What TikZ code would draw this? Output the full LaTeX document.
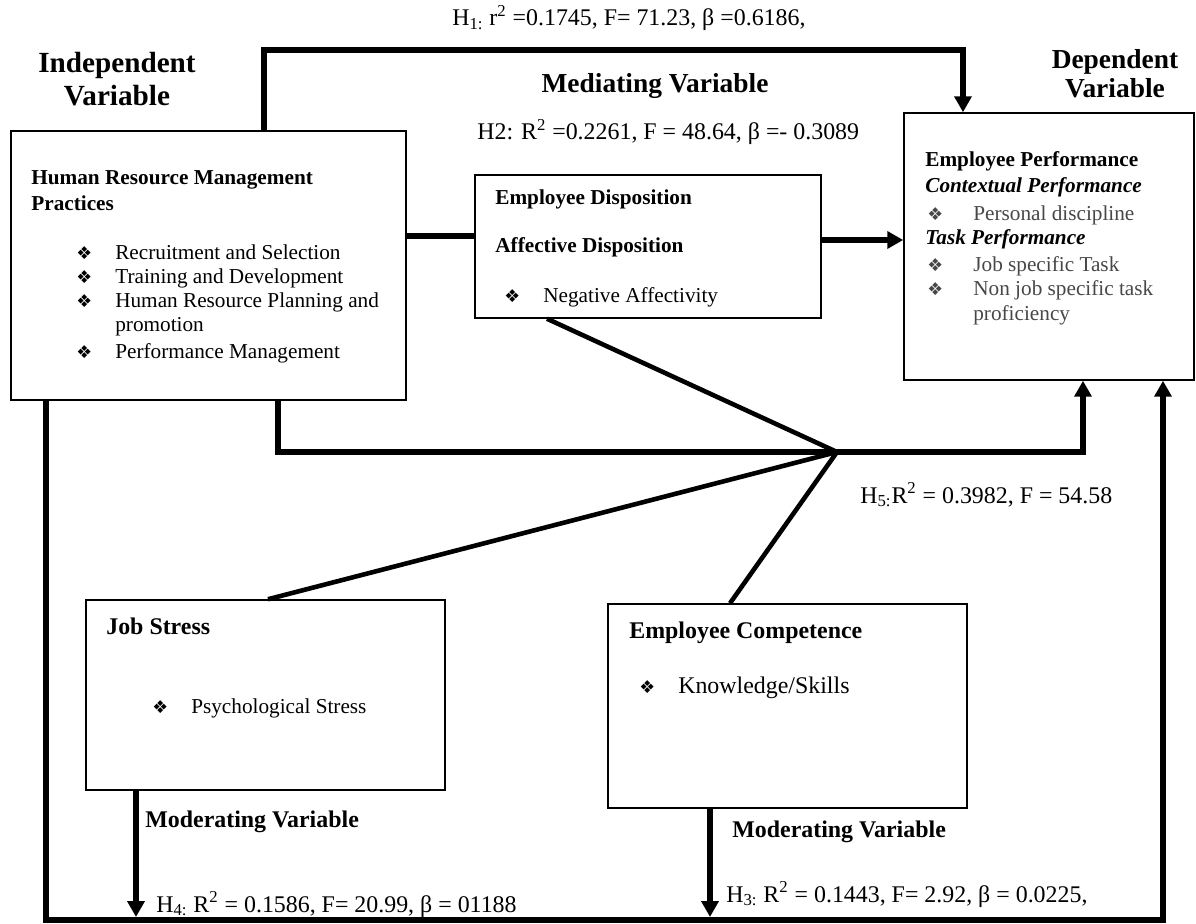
\documentclass[tikz,border=0pt]{standalone}
\usepackage{fontspec}
\setmainfont{Liberation Serif}
\newfontfamily\symfont{DejaVu Sans}
\usetikzlibrary{arrows.meta,fit}
\newcommand{\bul}{{\symfont\fontsize{10}{10}\selectfont\char"2756}}
\newcommand{\bitem}[2][22pt]{\makebox[#1][l]{\bul}#2}
\begin{document}
\begin{tikzpicture}[x=0.565pt,y=-0.565pt,
  boxst/.style={draw,line width=0.85pt,inner sep=0pt},
  txt/.style={anchor=base west,inner sep=0pt,font=\fontsize{12}{14}\selectfont},
  txtb/.style={txt,font=\fontsize{12}{14}\selectfont\bfseries},
  txtbi/.style={txt,font=\fontsize{12}{14}\selectfont\bfseries\itshape},
  gtxt/.style={txt,text=black!72},
  lbl/.style={anchor=base west,inner sep=0pt,font=\fontsize{13.5}{16}\selectfont},
  lblb/.style={lbl,font=\fontsize{13.5}{16}\selectfont\bfseries},
  hd/.style={anchor=base,inner sep=0pt,font=\fontsize{15.5}{18}\selectfont\bfseries},
  hdl/.style={hd,font=\fontsize{16.5}{19}\selectfont\bfseries},
  thk/.style={line width=3.1pt},
  arr/.style={line width=3.1pt,-{Triangle[width=9.5pt,length=9pt]}},
  diag/.style={line width=2.6pt}]
\useasboundingbox (0,0) rectangle (1196,924);

% boxes
\node[boxst,fit={(11,131)(406,400)}] (hrm) {};
\node[boxst,fit={(475,175)(821,318)}] (ed) {};
\node[boxst,fit={(904,113)(1194,380)}] (dp) {};
\node[boxst,fit={(86,600)(445,790)}] (js) {};
\node[boxst,fit={(608,604)(967,808)}] (ec) {};

% headings
\node[hdl] (indep1) at (117,73) {Independent};
\node[hdl] (indep2) at (117,106) {Variable};
\node[hd] (medi) at (655,93) {Mediating Variable};
\node[hd] (dep1) at (1115,69) {Dependent};
\node[hd] (dep2) at (1115,98) {Variable};

% hypothesis labels
\node[lbl] (h1) at (452,26) {H\textsubscript{1:} r\textsuperscript{2} =0.1745, F= 71.23, β =0.6186,};
\node[lbl] (h2) at (477,140) {H2: R\textsuperscript{2} =0.2261, F = 48.64, β =- 0.3089};
\node[lbl] (h5) at (860,503) {H\textsubscript{5:}R\textsuperscript{2} = 0.3982, F = 54.58};
\node[lbl] (h4) at (156,912) {H\textsubscript{4:} R\textsuperscript{2} = 0.1586, F= 20.99, β = 01188};
\node[lbl] (h3) at (726,902) {H\textsubscript{3:} R\textsuperscript{2} = 0.1443, F= 2.92, β = 0.0225,};
\node[lblb] (mod1) at (145,827) {Moderating Variable};
\node[lblb] (mod2) at (732,837) {Moderating Variable};

% HRM box text
\node[txtb] (hrmt1) at (31,185) {Human Resource Management};
\node[txtb] (hrmt2) at (31,211) {Practices};
\node[txt] (hrmi1) at (76,260) {\bitem{Recruitment and Selection}};
\node[txt] (hrmi2) at (76,284) {\bitem{Training and Development}};
\node[txt] (hrmi3) at (76,308) {\bitem{Human Resource Planning and}};
\node[txt] (hrmi3b) at (115,332) {promotion};
\node[txt] (hrmi4) at (76,358) {\bitem{Performance Management}};

% ED box text
\node[txtb] (edt1) at (495,205) {Employee Disposition};
\node[txtb] (edt2) at (495,253) {Affective Disposition};
\node[txt] (edi1) at (504,303) {\bitem{Negative Affectivity}};

% DP box text
\node[txtb] (dpt1) at (925,167) {Employee Performance};
\node[txtbi] (dpt2) at (925,193) {Contextual Performance};
\node[gtxt] (dpi1) at (927,221) {\bitem[26pt]{Personal discipline}};
\node[txtbi] (dpt3) at (925,245) {Task Performance};
\node[gtxt] (dpi2) at (927,272) {\bitem[26pt]{Job specific Task}};
\node[gtxt] (dpi3) at (927,296) {\bitem[26pt]{Non job specific task}};
\node[gtxt] (dpi3b) at (973,320) {proficiency};

% JS box text
\node[lblb] (jst) at (106,634) {Job Stress};
\node[txt] (jsi) at (152,713) {\bitem{Psychological Stress}};

% EC box text
\node[lblb] (ect) at (629,638) {Employee Competence};
\node[lbl] (eci) at (639,693) {\bitem{Knowledge/Skills}};

% bend coordinates
\coordinate (t1) at (264,50);
\coordinate (t2) at (963,50);
\coordinate (y1) at (440,236);
\coordinate (y2) at (860,240);
\coordinate (cv) at (837,452);
\coordinate (b1) at (278,452);
\coordinate (b2) at (1083,452);
\coordinate (e1) at (547,318);
\coordinate (j1) at (268,600);
\coordinate (k1) at (730,604);
\coordinate (f1) at (46,920);
\coordinate (f2) at (1163,920);
\coordinate (g1) at (136,917);
\coordinate (g2) at (710,917);

% connectors
\draw[arr] (hrm.north -| t1) -- (t1) -- (t2) -- (dp.north -| t2);
\draw[thk] (hrm.east |- y1) -- (ed.west |- y1);
\draw[arr] (ed.east |- y2) -- (dp.west |- y2);
\draw[arr] (hrm.south -| b1) -- (b1) -- (b2) -- (dp.south -| b2);
\draw[diag] (ed.south -| e1) -- (cv);
\draw[diag] (js.north -| j1) -- (cv);
\draw[diag] (ec.north -| k1) -- (cv);
\draw[arr] (hrm.south -| f1) -- (f1) -- (f2) -- (dp.south -| f2);
\draw[arr] (js.south -| g1) -- (g1);
\draw[arr] (ec.south -| g2) -- (g2);
\end{tikzpicture}
\end{document}
